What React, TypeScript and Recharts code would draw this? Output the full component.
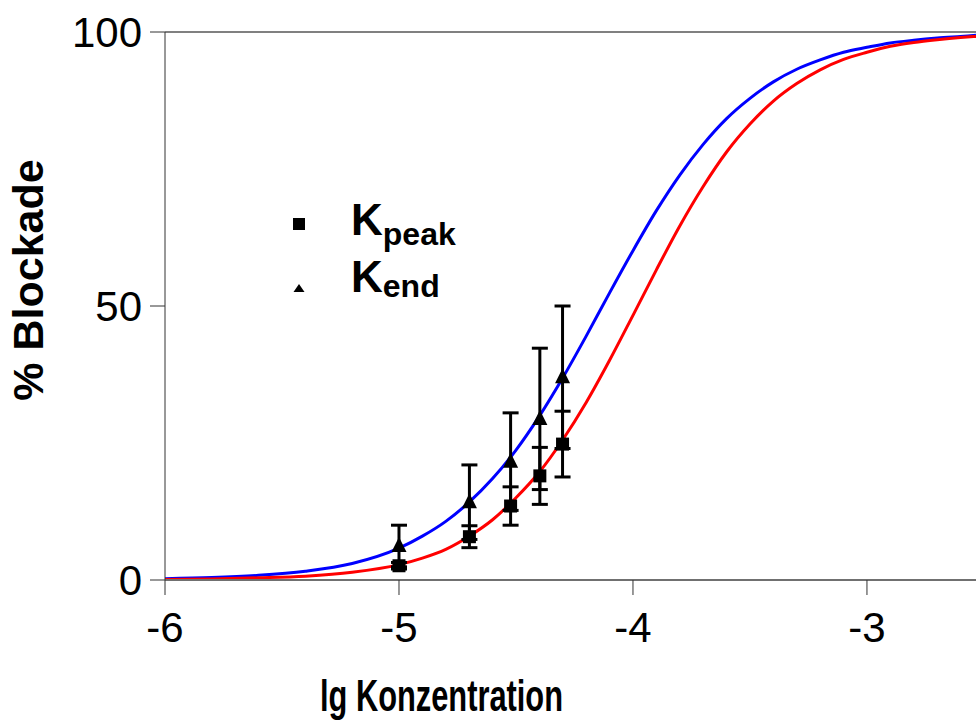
import React from "react";
import {
  ComposedChart,
  Line,
  Scatter,
  XAxis,
  YAxis,
  ErrorBar,
  ReferenceLine,
} from "recharts";

// fitted curves
const curveX = [
  -6, -5.8, -5.6, -5.4, -5.2, -5.0, -4.9, -4.8, -4.7, -4.6, -4.5, -4.4, -4.3,
  -4.2, -4.1, -4.0, -3.9, -3.8, -3.7, -3.6, -3.5, -3.4, -3.3, -3.2, -3.1, -3.0,
  -2.9, -2.8, -2.7, -2.6, -2.534,
];
const endCurve = [
  0.25, 0.45, 0.85, 1.6, 3.0, 5.8, 8.0, 10.7, 14.2, 18.5, 23.7, 29.9, 36.9,
  44.5, 52.4, 60.1, 67.4, 73.9, 79.5, 84.2, 87.9, 90.9, 93.2, 94.9, 96.3, 97.2,
  98.0, 98.5, 98.9, 99.2, 99.4,
];
const peakCurve = [
  0.1, 0.2, 0.4, 0.7, 1.4, 2.8, 4.0, 5.6, 8.0, 11.0, 15.0, 19.7, 25.6, 32.4,
  40.1, 48.3, 56.6, 64.6, 71.8, 78.1, 83.2, 87.4, 90.6, 93.1, 95.0, 96.3, 97.4,
  98.1, 98.6, 99.0, 99.2,
];

// measured points (lg of 10..50 µM)
const pointX = [-5, -4.699, -4.523, -4.398, -4.301];
const kendY = [6.2, 14.2, 21.6, 29.4, 37.0];
const kendErr = [3.8, 6.8, 8.9, 12.9, 13.0];
const kpeakY = [2.6, 7.9, 13.5, 19.0, 24.8];
const kpeakErr = [0.6, 2.0, 3.5, 5.2, 6.0];

const xTicks = [-6, -5, -4, -3];
const yTicks = [0, 50, 100];

const FONT = "'Liberation Sans', Arial, sans-serif";

const endLine = curveX.map((x, i) => ({ x, y: endCurve[i] }));
const peakLine = curveX.map((x, i) => ({ x, y: peakCurve[i] }));
const kend = pointX.map((x, i) => ({ x, y: kendY[i], err: kendErr[i] }));
const kpeak = pointX.map((x, i) => ({ x, y: kpeakY[i], err: kpeakErr[i] }));

const Square = (props: any) => {
  const { cx, cy } = props;
  return <rect x={cx - 6.5} y={cy - 6.5} width={13} height={13} fill="#000" />;
};

const Triangle = (props: any) => {
  const { cx, cy } = props;
  return (
    <polygon
      points={`${cx},${cy - 9} ${cx - 7.5},${cy + 6} ${cx + 7.5},${cy + 6}`}
      fill="#000"
    />
  );
};

export default function App() {
  return (
    <div style={{ position: "absolute", left: 0, top: 0, width: 976, height: 720 }}>
      <ComposedChart
        width={976}
        height={720}
        margin={{ top: 32, right: 0, bottom: 0, left: 0 }}
      >
        <XAxis
          type="number"
          dataKey="x"
          domain={[-6, -2.534]}
          allowDataOverflow
          ticks={xTicks}
          height={140}
          tickSize={15}
          tickMargin={17}
          axisLine={{ stroke: "#707070", strokeWidth: 2 }}
          tickLine={{ stroke: "#333" }}
          tick={{ fill: "#000", fontSize: 42, fontFamily: FONT }}
        />
        <YAxis
          type="number"
          dataKey="y"
          domain={[0, 100]}
          ticks={yTicks}
          width={165}
          tickSize={15}
          tickMargin={8}
          axisLine={{ stroke: "#333" }}
          tickLine={{ stroke: "#333" }}
          tick={{ fill: "#000", fontSize: 42, fontFamily: FONT }}
        />
        <ReferenceLine y={100} stroke="#808080" strokeWidth={2} />

        <Line
          data={endLine}
          dataKey="y"
          type="monotone"
          stroke="#0000ff"
          strokeWidth={3}
          dot={false}
          isAnimationActive={false}
        />
        <Line
          data={peakLine}
          dataKey="y"
          type="monotone"
          stroke="#ff0000"
          strokeWidth={3}
          dot={false}
          isAnimationActive={false}
        />

        <Scatter data={kend} dataKey="y" shape={Triangle} isAnimationActive={false}>
          <ErrorBar dataKey="err" direction="y" width={8} stroke="#000" strokeWidth={3} />
        </Scatter>
        <Scatter data={kpeak} dataKey="y" shape={Square} isAnimationActive={false}>
          <ErrorBar dataKey="err" direction="y" width={8} stroke="#000" strokeWidth={3} />
        </Scatter>

        {/* legend */}
        <rect x={293} y={218} width={12} height={12} fill="#000" />
        <polygon points="299,284 293.5,292 304.5,292" fill="#000" />
        <text x={351} y={235} fontFamily={FONT} fontWeight="bold" fontSize={44} fill="#000">
          K
          <tspan fontSize={32} dy={10}>peak</tspan>
        </text>
        <text x={351} y={292} fontFamily={FONT} fontWeight="bold" fontSize={44} fill="#000">
          K
          <tspan fontSize={32} dy={5}>end</tspan>
        </text>

        {/* axis titles */}
        <text
          transform="translate(43,280) rotate(-90)"
          textAnchor="middle"
          fontFamily={FONT}
          fontWeight="bold"
          fontSize={43}
          fill="#000"
        >
          % Blockade
        </text>
        <text
          x={320}
          y={711}
          textLength={243}
          lengthAdjust="spacingAndGlyphs"
          fontFamily={FONT}
          fontWeight="bold"
          fontSize={44}
          fill="#000"
        >
          lg Konzentration
        </text>
      </ComposedChart>
    </div>
  );
}
